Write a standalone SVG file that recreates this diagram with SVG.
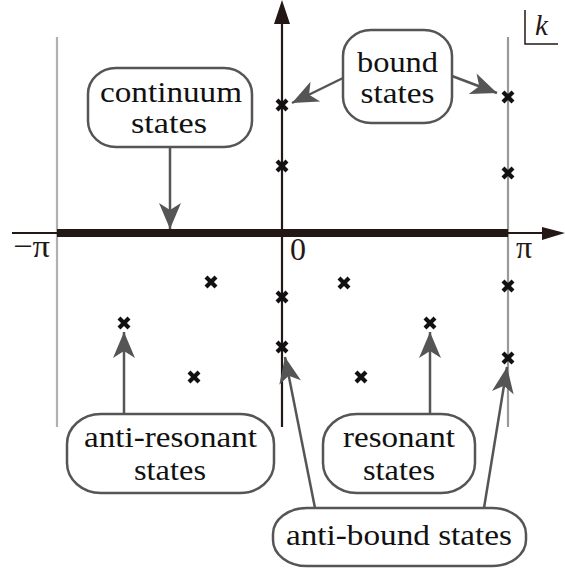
<svg xmlns="http://www.w3.org/2000/svg" width="565" height="570" viewBox="0 0 565 570" font-family="Liberation Serif, Times New Roman, serif">
<style>
.box{fill:#fff;stroke:#555;stroke-width:2.5}
.lbl{font-size:30px;fill:#111;text-anchor:middle}
.ax{font-size:32px;fill:#231815}
.con{stroke:#555;stroke-width:2.5;fill:none;marker-end:url(#ah)}
.x{stroke:#111;stroke-width:4.2}
</style>
<defs>
<marker id="ah" markerUnits="userSpaceOnUse" markerWidth="30" markerHeight="26" viewBox="-28 -13 30 26" refX="0" refY="0" orient="auto">
<path d="M0,0 L-26,-11 L-19,0 L-26,11 Z" fill="#555"/>
</marker>
<path id="cr" d="M-5,-5 L5,5 M-5,5 L5,-5"/>
</defs>
<rect width="565" height="570" fill="#fff"/>
<g id="axes">
<line x1="57" y1="37" x2="57" y2="427" stroke="#b0b0b0" stroke-width="2.2"/>
<line x1="508" y1="37" x2="508" y2="427" stroke="#999" stroke-width="2.2"/>
<line x1="12" y1="233" x2="57" y2="233" stroke="#231815" stroke-width="2"/>
<line x1="57" y1="233" x2="508" y2="233" stroke="#231815" stroke-width="8"/>
<line x1="508" y1="233" x2="545" y2="233" stroke="#231815" stroke-width="2"/>
<path d="M565,233 L542,227 L542,240 Z" fill="#231815"/>
<line x1="282" y1="20" x2="282" y2="427" stroke="#231815" stroke-width="2.2"/>
<path d="M282,0 L274,24 L290,24 Z" fill="#231815"/>
<text class="ax" x="13" y="257" textLength="37" lengthAdjust="spacingAndGlyphs">−π</text>
<text class="ax" x="290" y="260">0</text>
<text class="ax" x="516" y="258">π</text>
<path d="M525,10 L525,44 L558,44" fill="none" stroke="#231815" stroke-width="1.5"/>
<text x="535" y="35" font-style="italic" font-size="29" fill="#231815">k</text>
</g>
<g id="points">
<use href="#cr" class="x" x="282" y="105"/>
<use href="#cr" class="x" x="282" y="166"/>
<use href="#cr" class="x" x="508" y="97"/>
<use href="#cr" class="x" x="508" y="173"/>
<use href="#cr" class="x" x="282" y="297"/>
<use href="#cr" class="x" x="282" y="347"/>
<use href="#cr" class="x" x="508" y="286"/>
<use href="#cr" class="x" x="508" y="358"/>
<use href="#cr" class="x" x="211" y="282"/>
<use href="#cr" class="x" x="344" y="283"/>
<use href="#cr" class="x" x="124" y="323"/>
<use href="#cr" class="x" x="194" y="377"/>
<use href="#cr" class="x" x="430" y="323"/>
<use href="#cr" class="x" x="361" y="377"/>
</g>
<g id="connectors">
<line class="con" x1="170" y1="147" x2="170" y2="229"/>
<line class="con" x1="343" y1="78" x2="292" y2="103"/>
<line class="con" x1="452" y1="76" x2="497" y2="93"/>
<line class="con" x1="124" y1="414" x2="124" y2="332"/>
<line class="con" x1="430" y1="414" x2="430" y2="332"/>
<line class="con" x1="315" y1="508" x2="285" y2="357"/>
<line class="con" x1="484" y1="508" x2="507" y2="367"/>
</g>
<g id="continuum">
<rect class="box" x="88" y="68" width="164" height="79" rx="28" ry="26"/>
<text class="lbl" x="171" y="102" textLength="142" lengthAdjust="spacingAndGlyphs">continuum</text>
<text class="lbl" x="169" y="133" textLength="76" lengthAdjust="spacingAndGlyphs">states</text>
</g>
<g id="bound">
<rect class="box" x="343" y="30" width="109" height="93" rx="28" ry="26"/>
<text class="lbl" x="397.5" y="72" textLength="81" lengthAdjust="spacingAndGlyphs">bound</text>
<text class="lbl" x="397.5" y="103" textLength="74" lengthAdjust="spacingAndGlyphs">states</text>
</g>
<g id="antiresonant">
<rect class="box" x="67" y="414" width="207" height="79" rx="34" ry="30"/>
<text class="lbl" x="170.5" y="447" textLength="173" lengthAdjust="spacingAndGlyphs">anti-resonant</text>
<text class="lbl" x="170" y="480" textLength="72" lengthAdjust="spacingAndGlyphs">states</text>
</g>
<g id="resonant">
<rect class="box" x="323" y="414" width="152" height="79" rx="34" ry="30"/>
<text class="lbl" x="399" y="447" textLength="112" lengthAdjust="spacingAndGlyphs">resonant</text>
<text class="lbl" x="399" y="480" textLength="72" lengthAdjust="spacingAndGlyphs">states</text>
</g>
<g id="antibound">
<rect class="box" x="273" y="508" width="253" height="58" rx="34" ry="26"/>
<text class="lbl" x="399" y="545" textLength="226" lengthAdjust="spacingAndGlyphs">anti-bound states</text>
</g>
</svg>
